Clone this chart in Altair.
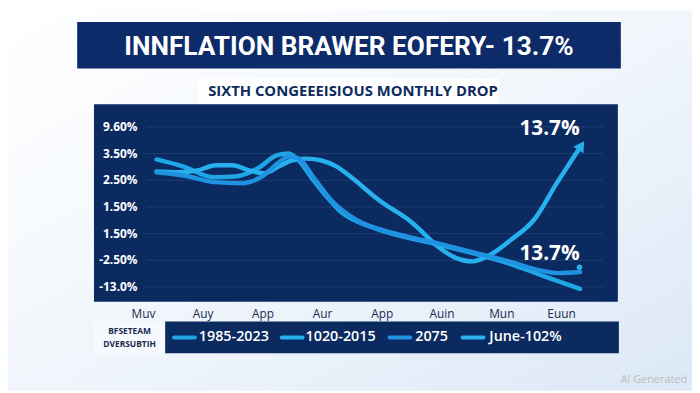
import altair as alt
import pandas as pd

# ---------------- data ----------------
TITLE = "INNFLATION BRAWER EOFERY- 13.7%"
SUBTITLE = "SIXTH CONGEEEISIOUS MONTHLY DROP"
X_LABELS = ["Muv", "Auy", "App", "Aur", "App", "Auin", "Mun", "Euun"]
Y_LABELS = ["-13.0%", "-2.50%", "1.50%", "1.50%", "2.50%", "3.50%", "9.60%"]  # bottom -> top
SERIES = ["1985-2023", "1020-2015", "2075", "June-102%"]
COLORS = ["#1ea6e6", "#27b0ee", "#1f93e2", "#2bb3f0"]
LEGEND_BOX = ["BFSETEAM", "DVERSUBTIH"]
ANNOTATION = "13.7%"

# series positions (x in month-slot units, y in grid-step units)
S1_X = [0.22, 0.66, 1.19, 1.57, 1.94, 2.23, 2.43, 2.60, 2.81, 3.06, 3.31, 3.59, 3.89, 4.22, 4.93, 5.59, 6.16, 6.70, 7.31]
S1_Y = [4.78, 4.52, 4.11, 4.15, 4.48, 4.93, 5.00, 4.74, 4.11, 3.41, 2.81, 2.44, 2.19, 1.96, 1.59, 1.22, 0.85, 0.41, -0.07]

S2_X = [0.22, 0.58, 0.91, 1.21, 1.49, 1.77, 2.03, 2.27, 2.48, 2.73, 2.98, 3.23, 3.48, 3.94, 4.50, 4.93, 5.21, 5.51, 5.76, 6.16, 6.54, 6.92, 7.33]
S2_Y = [4.33, 4.30, 4.37, 4.56, 4.56, 4.37, 4.26, 4.52, 4.74, 4.81, 4.74, 4.52, 4.11, 3.26, 2.41, 1.52, 1.11, 0.96, 1.15, 1.78, 2.52, 3.89, 5.30]

S3_X = [0.22, 0.74, 1.19, 1.65, 1.99, 2.27, 2.43, 2.60, 2.86, 3.14, 3.56, 4.22, 4.93, 5.59, 6.16, 6.62, 6.95, 7.31]
S3_Y = [4.30, 4.15, 3.93, 3.89, 4.15, 4.67, 4.89, 4.81, 4.07, 3.26, 2.52, 2.00, 1.63, 1.26, 0.93, 0.63, 0.52, 0.56]

DOT_X = [7.30]
DOT_Y = [0.74]

ANN_X = [6.80, 6.80]
ANN_Y = [5.93, 1.22]

# ---------------- tables ----------------
rows = []
for name, xs_, ys_ in [(SERIES[0], S1_X, S1_Y), (SERIES[1], S2_X, S2_Y), (SERIES[2], S3_X, S3_Y)]:
    for i, (a, b) in enumerate(zip(xs_, ys_)):
        rows.append({"series": name, "i": i, "x": a, "y": b})
lines_df = pd.DataFrame(rows)
grid_df = pd.DataFrame({"v": list(range(len(Y_LABELS))), "label": Y_LABELS})
xlab_df = pd.DataFrame({"i": list(range(len(X_LABELS))), "label": X_LABELS})
arrow_df = pd.DataFrame({"x": [S2_X[-1]], "y": [S2_Y[-1]], "series": [SERIES[1]]})
dot_df = pd.DataFrame({"x": DOT_X, "y": DOT_Y, "series": [SERIES[3]]})
ann_df = pd.DataFrame({"x": ANN_X, "y": ANN_Y, "t": [ANNOTATION, ANNOTATION]})
one = pd.DataFrame({"a": [0]})

W, H = 692, 385
NAVY = "#0b2a60"
BANNER = "#0c2b68"

xs = alt.Scale(domain=[0, 7], range=[137, 560])
ys = alt.Scale(domain=[0, 6], range=[280, 118])
cs = alt.Scale(domain=SERIES, range=COLORS)

bg = alt.Chart(one).mark_rect(
    fill=alt.Gradient(
        gradient="linear",
        stops=[alt.GradientStop(color="#ffffff", offset=0),
               alt.GradientStop(color="#f1f6fc", offset=0.5),
               alt.GradientStop(color="#dce8f6", offset=1)],
        x1=0, x2=1, y1=0, y2=1,
    )
).encode(x=alt.value(0), x2=alt.value(W), y=alt.value(0), y2=alt.value(H))

banner = alt.Chart(one).mark_rect(fill=BANNER).encode(
    x=alt.value(70), x2=alt.value(620), y=alt.value(12), y2=alt.value(59))
title = alt.Chart(one).mark_text(
    text=TITLE, color="white", fontSize=26.5, fontWeight="bold",
    font="Roboto", align="center", baseline="middle"
).encode(x=alt.value(345), y=alt.value(37))

subbox = alt.Chart(one).mark_rect(fill="#ffffff").encode(
    x=alt.value(192), x2=alt.value(497), y=alt.value(69), y2=alt.value(95))
subtitle = alt.Chart(one).mark_text(
    text=SUBTITLE, color="#0d2b5e", fontSize=15, fontWeight="bold",
    font="Open Sans", align="center", baseline="middle"
).encode(x=alt.value(349), y=alt.value(82))

panel = alt.Chart(one).mark_rect(fill=NAVY).encode(
    x=alt.value(87), x2=alt.value(617), y=alt.value(95), y2=alt.value(295))

grid = alt.Chart(grid_df).mark_rule(color="#1e3d74", strokeWidth=1).encode(
    y=alt.Y("v:Q", scale=ys, axis=None), x=alt.value(140), x2=alt.value(602))
ylabels = alt.Chart(grid_df).mark_text(
    align="right", baseline="middle", color="white", fontSize=12,
    fontWeight="bold", font="Open Sans"
).encode(y=alt.Y("v:Q", scale=ys, axis=None), x=alt.value(131), text="label:N")

xlabels = alt.Chart(xlab_df).mark_text(
    align="center", baseline="middle", color="#1b2b52", fontSize=12, font="Open Sans"
).encode(x=alt.X("i:Q", scale=xs, axis=None), y=alt.value(307), text="label:N")

lines = alt.Chart(lines_df).mark_line(
    strokeWidth=4.5, interpolate="monotone", strokeCap="round", strokeJoin="round"
).encode(
    x=alt.X("x:Q", scale=xs, axis=None),
    y=alt.Y("y:Q", scale=ys, axis=None),
    color=alt.Color("series:N", scale=cs, legend=None),
    detail="series:N",
    order="i:Q",
)

arrow = alt.Chart(arrow_df).mark_point(
    shape="triangle-up", filled=True, size=150, angle=33, opacity=1
).encode(x=alt.X("x:Q", scale=xs, axis=None), y=alt.Y("y:Q", scale=ys, axis=None),
         color=alt.Color("series:N", scale=cs, legend=None))

dot = alt.Chart(dot_df).mark_circle(size=30, opacity=1).encode(
    x=alt.X("x:Q", scale=xs, axis=None), y=alt.Y("y:Q", scale=ys, axis=None),
    color=alt.Color("series:N", scale=cs, legend=None))

ann = alt.Chart(ann_df).mark_text(
    color="white", fontSize=21, fontWeight="bold", font="Open Sans",
    align="center", baseline="middle"
).encode(x=alt.X("x:Q", scale=xs, axis=None), y=alt.Y("y:Q", scale=ys, axis=None), text="t:N")

# legend
leg_left = alt.Chart(one).mark_rect(fill="#f6f9fd").encode(
    x=alt.value(87), x2=alt.value(159), y=alt.value(315), y2=alt.value(347))
leg_bar = alt.Chart(one).mark_rect(fill=NAVY).encode(
    x=alt.value(159), x2=alt.value(618), y=alt.value(315), y2=alt.value(347))
leg_box_txt = [
    alt.Chart(one).mark_text(text=t, color="#1b2b52", fontSize=8.5, fontWeight="bold",
                             font="Open Sans", align="center", baseline="middle"
                             ).encode(x=alt.value(123), y=alt.value(yy))
    for t, yy in zip(LEGEND_BOX, [325, 338])
]
sw_x = [168, 277, 386, 460]
tx_x = [193, 301, 412, 487]
leg_items = []
for name, col, sx, tx in zip(SERIES, COLORS, sw_x, tx_x):
    leg_items.append(alt.Chart(one).mark_rule(color=col, strokeWidth=4, strokeCap="round").encode(
        x=alt.value(sx), x2=alt.value(sx + 21), y=alt.value(331)))
    leg_items.append(alt.Chart(one).mark_text(
        text=name, color="white", fontSize=14.5, font="Open Sans", fontWeight=600,
        align="left", baseline="middle").encode(x=alt.value(tx), y=alt.value(331)))

watermark = alt.Chart(one).mark_text(
    text="AI Generated", color="#bcbcbc", fontSize=11, font="Open Sans",
    align="right", baseline="middle").encode(x=alt.value(687), y=alt.value(374))

chart = alt.layer(
    bg, banner, title, subbox, panel, subtitle, grid, ylabels, xlabels,
    lines, arrow, dot, ann, leg_left, leg_bar, *leg_box_txt, *leg_items, watermark
).properties(
    width=W, height=H, padding=0,
    autosize=alt.AutoSizeParams(type="none"),
).configure_view(stroke=None)

chart.save("out.html", embed_options={"renderer": "svg", "actions": False})
